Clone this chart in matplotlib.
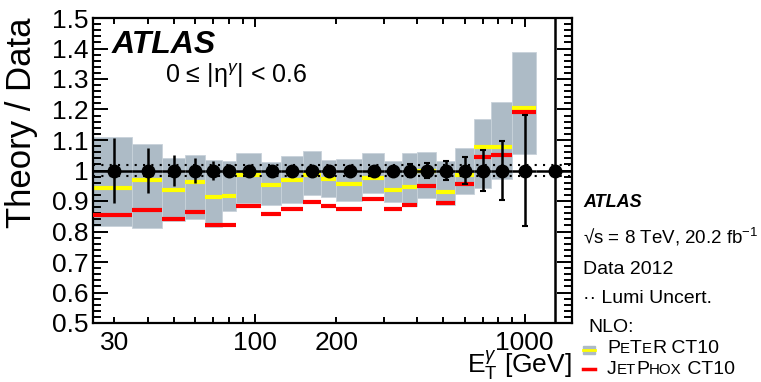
import matplotlib
matplotlib.use('Agg')
import matplotlib.pyplot as plt
from matplotlib.ticker import FixedLocator, MultipleLocator, FuncFormatter
from matplotlib.patches import Rectangle
from matplotlib.lines import Line2D
import numpy as np

plt.rcParams['font.family'] = ['Liberation Sans', 'DejaVu Sans']
plt.rcParams['mathtext.fontset'] = 'custom'
plt.rcParams['mathtext.rm'] = 'Liberation Sans'
plt.rcParams['mathtext.it'] = 'Liberation Sans:italic'
plt.rcParams['mathtext.bf'] = 'Liberation Sans:bold'

# bin edges in E_T [GeV]
edges = np.array([25, 35, 45, 55, 65, 75, 85, 105, 125, 150, 175, 200, 250,
                  300, 350, 400, 470, 550, 650, 750, 900, 1100, 1500])

# data (ratio = 1) and its uncertainty
data_ratio = np.ones(22)
data_err = np.array([0.105, 0.075, 0.052, 0.040, 0.030, 0.022, 0.018, 0.015,
                     0.014, 0.014, 0.014, 0.015, 0.015, 0.016, 0.020, 0.025,
                     0.030, 0.043, 0.067, 0.097, 0.182, 0.6])
lumi = 0.019

# theory / data, no prediction in last bin
peter = np.array([0.944, 0.968, 0.935, 0.963, 0.913, 0.917, 0.984, 0.951,
                  0.968, 0.986, 0.971, 0.955, 0.975, 0.937, 0.945, 0.998,
                  0.931, 0.985, 1.076, 1.078, 1.206])
peter_lo = np.array([0.818, 0.810, 0.834, 0.841, 0.815, 0.868, 0.893, 0.887,
                     0.893, 0.920, 0.912, 0.900, 0.925, 0.896, 0.885, 0.911,
                     0.887, 0.923, 0.944, 0.971, 1.054])
peter_hi = np.array([1.109, 1.086, 1.042, 1.051, 1.034, 1.032, 1.056, 1.028,
                     1.049, 1.064, 1.034, 1.038, 1.056, 1.030, 1.056, 1.062,
                     1.032, 1.075, 1.169, 1.226, 1.390])
jetphox = np.array([0.854, 0.871, 0.841, 0.865, 0.821, 0.821, 0.884, 0.856,
                    0.873, 0.897, 0.885, 0.874, 0.906, 0.874, 0.887, 0.950,
                    0.893, 0.956, 1.045, 1.052, 1.192])

W, H = 761, 382
fig = plt.figure(figsize=(W / 100, H / 100), dpi=100)
ax = fig.add_axes([93 / W, 1 - 323 / H, (572 - 93) / W, (323 - 18) / H])

lo = edges[:-1]
hi = edges[1:]
centers = (lo + hi) / 2
n = len(peter)

gray = '#adbbc6'
ax.bar(lo[:n], peter_hi - peter_lo, bottom=peter_lo, width=hi[:n] - lo[:n],
       align='edge', color=gray, edgecolor='#c8d2da', linewidth=0.6, zorder=1)
ax.hlines(peter, lo[:n], hi[:n], colors='#ffff00', lw=3, zorder=2)
ax.hlines(jetphox, lo[:n], hi[:n], colors='#ff0000', lw=3, zorder=3)

ax.axhline(1 + lumi, color='k', lw=1.5, ls=(0, (1, 3)), zorder=4)
ax.axhline(1 - lumi, color='k', lw=1.5, ls=(0, (1, 3)), zorder=4)

ax.errorbar(centers, data_ratio, xerr=[centers - lo, hi - centers], fmt='none',
            ecolor='k', elinewidth=1.8, capsize=0, zorder=5)
# low ET bins drawn without caps, high ET bins with small caps
k = 14
ax.errorbar(centers[:k], data_ratio[:k], yerr=data_err[:k], fmt='o', color='k',
            ms=9, ecolor='k', elinewidth=1.8, capsize=0, zorder=6)
ax.errorbar(centers[k:], data_ratio[k:], yerr=data_err[k:], fmt='o', color='k',
            ms=9, ecolor='k', elinewidth=1.8, capsize=2.5, capthick=1.5, zorder=6)

ax.set_xscale('log')
ax.set_xlim(25, 1500)
ax.set_ylim(0.5, 1.5)

ax.xaxis.set_major_locator(FixedLocator([100, 1000]))
ax.xaxis.set_minor_locator(FixedLocator([30, 40, 50, 60, 70, 80, 90,
                                         200, 300, 400, 500, 600, 700, 800, 900]))
ax.xaxis.set_major_formatter(FuncFormatter(lambda v, p: '%g' % v))
ax.xaxis.set_minor_formatter(FuncFormatter(lambda v, p: '%g' % v if v in (30, 200) else ''))
ax.yaxis.set_major_locator(MultipleLocator(0.1))
ax.yaxis.set_minor_locator(MultipleLocator(0.02))
ax.yaxis.set_major_formatter(FuncFormatter(lambda v, p: '%g' % round(v, 2)))

ax.tick_params(which='both', direction='in', top=True, right=True, width=1.4,
               labelsize=19)
ax.tick_params(axis='x', which='major', length=6.5, pad=6)
ax.tick_params(axis='x', which='minor', length=4, pad=6)
ax.tick_params(axis='y', which='major', length=10.5, pad=3)
ax.tick_params(axis='y', which='minor', length=5.5)
for s in ax.spines.values():
    s.set_linewidth(1.6)

# axis titles
fig.text(22 / W, 1 - 17 / H, 'Theory / Data', rotation=90, ha='center',
         va='top', fontsize=25)
fig.text(572 / W, 1 - 373 / H, r'E$_{\mathrm{T}}^{\gamma}$ [GeV]', ha='right',
         va='baseline', fontsize=19)

# labels in the plot
fig.text(112 / W, 1 - 53 / H, 'ATLAS', fontsize=23, fontweight='bold',
         fontstyle='italic', va='baseline')
fig.text(165 / W, 1 - 83 / H, r'0 ≤ |η$^{\gamma}$| < 0.6', fontsize=18,
         va='baseline')

# legend on the right
x0 = 583 / W
fig.text(x0, 1 - 207 / H, 'ATLAS', fontsize=13, fontweight='bold',
         fontstyle='italic', va='baseline')
fig.text(x0, 1 - 243 / H, r'√s = 8 TeV, 20.2 fb$^{-1}$', fontsize=13.5, va='baseline')
fig.text(x0, 1 - 274 / H, 'Data 2012', fontsize=14, va='baseline')
fig.text(x0, 1 - 303 / H, '·· Lumi Uncert.', fontsize=14, va='baseline')
fig.text(588 / W, 1 - 332 / H, 'NLO:', fontsize=14, va='baseline')

fig.add_artist(Rectangle((583 / W, 1 - 354 / H), 12 / W, 8 / H, color=gray,
                         transform=fig.transFigure))
fig.add_artist(Line2D([583 / W, 595 / W], [1 - 350 / H] * 2, color='#ffff00',
                      lw=2, transform=fig.transFigure))
fig.add_artist(Line2D([583 / W, 595 / W], [1 - 369 / H] * 2, color='#ff0000',
                      lw=2.5, transform=fig.transFigure))


def caps_text(x, y, parts):
    r = fig.canvas.get_renderer()
    for s, size in parts:
        t = fig.text(x, y, s, fontsize=size, va='baseline')
        x += t.get_window_extent(r).width / fig.bbox.width


big, small = 14, 10.8
caps_text(607 / W, 1 - 353 / H, [('P', big), ('E', small), ('T', big),
                                  ('E', small), ('R', big), (' CT10', big)])
caps_text(607 / W, 1 - 374 / H, [('J', big), ('ET', small), ('P', big),
                                  ('HOX', small), (' CT10', big)])

fig.savefig('out.png', dpi=100)
